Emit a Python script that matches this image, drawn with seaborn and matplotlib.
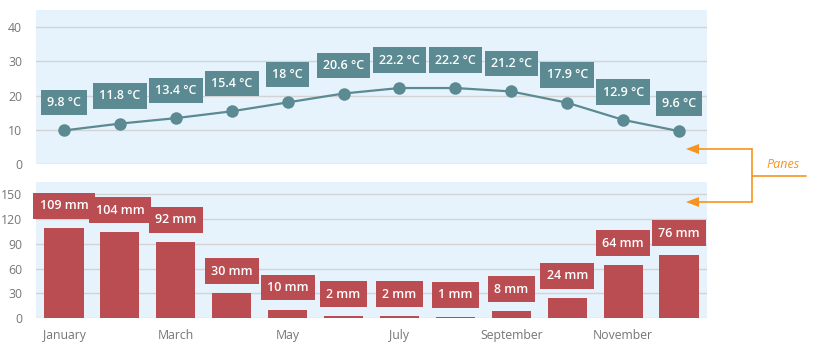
import numpy as np
import pandas as pd
import seaborn as sns
import matplotlib
matplotlib.use("Agg")
import matplotlib.pyplot as plt
from matplotlib.lines import Line2D

months = ["January", "February", "March", "April", "May", "June", "July",
          "August", "September", "October", "November", "December"]
temperature = [9.8, 11.8, 13.4, 15.4, 18, 20.6, 22.2, 22.2, 21.2, 17.9, 12.9, 9.6]
precipitation = [109, 104, 92, 30, 10, 2, 2, 1, 8, 24, 64, 76]
temp_ticks = [0, 10, 20, 30, 40]
precip_ticks = [0, 30, 60, 90, 120, 150]

sns.set_theme(style="white")
plt.rcParams['font.family'] = ['Open Sans', 'DejaVu Sans']

PANE = "#e6f3fd"
GRID = "#d3d3d3"
TICK = "#767676"
LINE_C = "#5b8a92"
BAR_C = "#b94d52"
ORANGE = "#f7931e"

W, H = 813, 349
fig = plt.figure(figsize=(W / 100, H / 100), dpi=100)
ax1 = fig.add_axes([36 / W, 1 - 164 / H, (707 - 36) / W, 154 / H])
ax2 = fig.add_axes([36 / W, 1 - 318 / H, (707 - 36) / W, 136 / H])

df = pd.DataFrame({"month": months, "pos": np.arange(len(months)),
                   "temp": temperature, "precip": precipitation})

for ax in (ax1, ax2):
    ax.set_facecolor(PANE)
    for s in ax.spines.values():
        s.set_visible(False)
    ax.tick_params(axis="both", length=0, labelsize=8.8, labelcolor=TICK, pad=10)
    ax.grid(axis="y", color=GRID, linewidth=1)
    ax.set_axisbelow(True)

# Top pane: temperature
sns.lineplot(data=df, x="pos", y="temp", ax=ax1, color=LINE_C, linewidth=1.6,
             marker="o", markersize=9, markeredgewidth=0, markeredgecolor=LINE_C)
ax1.set_xlim(-0.5, len(months) - 0.5)
ax1.set_ylim(0, 45)
ax1.set_yticks(temp_ticks)
ax1.set_xticks([])
ax1.set_xlabel("")
ax1.set_ylabel("")
for i, v in enumerate(temperature):
    t = f"{v:g} °C"
    ax1.annotate(t, (i, v), xytext=(0, 20), textcoords="offset points",
                 ha="center", va="center", color="white", fontsize=9,
                 fontweight="semibold", annotation_clip=False,
                 bbox=dict(boxstyle="square,pad=0.5", fc=LINE_C, ec="none"))

# Bottom pane: precipitation
sns.barplot(data=df, x="month", y="precip", ax=ax2, color=BAR_C, width=0.7,
            saturation=1, linewidth=0)
ax2.set_xlim(-0.5, len(months) - 0.5)
ax2.set_ylim(0, 165)
ax2.set_yticks(precip_ticks)
ax2.set_xticks(range(0, len(months), 2))
ax2.set_xticklabels(months[::2])
ax2.tick_params(axis="x", pad=8)
ax2.set_xlabel("")
ax2.set_ylabel("")
for i, v in enumerate(precipitation):
    ax2.annotate(f"{v} mm", (i, v), xytext=(0, 16), textcoords="offset points",
                 ha="center", va="center", color="white", fontsize=9,
                 fontweight="semibold", annotation_clip=False,
                 bbox=dict(boxstyle="square,pad=0.5", fc=BAR_C, ec="none"))

# "Panes" annotation
def fy(y):
    return 1 - y / H

def fx(x):
    return x / W

fig.add_artist(Line2D([fx(752), fx(806)], [fy(176), fy(176)], color=ORANGE, lw=1.2))
fig.add_artist(Line2D([fx(752), fx(752)], [fy(149), fy(202)], color=ORANGE, lw=1.2))
for yy in (149, 202):
    fig.add_artist(Line2D([fx(697), fx(752)], [fy(yy), fy(yy)], color=ORANGE, lw=1.2))
    fig.patches.append(plt.Polygon([[fx(686), fy(yy)], [fx(699), fy(yy - 5)],
                                    [fx(699), fy(yy + 5)]], closed=True,
                                   transform=fig.transFigure, fc=ORANGE, ec="none"))
fig.text(fx(783), fy(165), "Panes", color=ORANGE, fontsize=9, style="italic",
         ha="center", va="center")

fig.savefig("out.png", dpi=100)
